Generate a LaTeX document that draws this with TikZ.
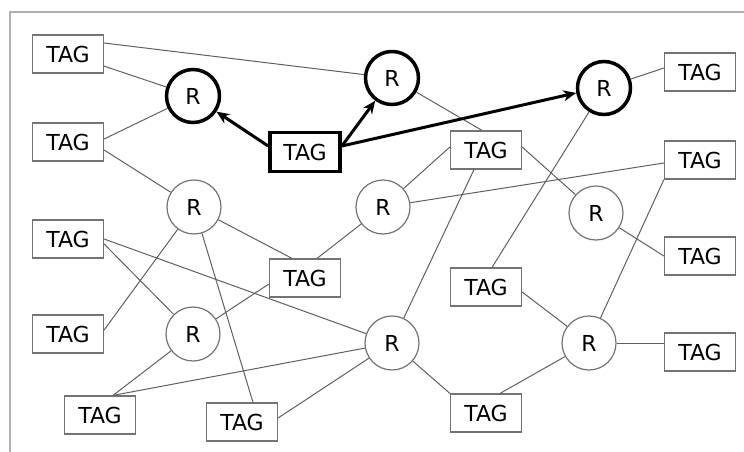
\documentclass[tikz,border=0pt]{standalone}
\usepackage{fontspec}
\setmainfont{DejaVu Sans}
\usetikzlibrary{arrows.meta}
\definecolor{linegray}{RGB}{95,95,95}
\definecolor{boxgray}{RGB}{115,115,115}
\definecolor{framegray}{RGB}{175,175,175}
\begin{document}
\begin{tikzpicture}[x=1pt,y=-1pt,
  tagbox/.style={draw=boxgray,line width=1.2pt,minimum width=71pt,minimum height=38pt,inner sep=0pt,font=\fontsize{22}{26}\selectfont},
  tagbold/.style={draw=black,line width=3.8pt,minimum width=70pt,minimum height=39pt,inner sep=0pt,font=\fontsize{22}{26}\selectfont},
  rnode/.style={circle,draw=boxgray,line width=1.2pt,minimum size=54pt,inner sep=0pt,font=\fontsize{22}{26}\selectfont},
  rbold/.style={circle,draw=black,line width=3.5pt,minimum size=53pt,inner sep=0pt,font=\fontsize{22}{26}\selectfont},
  link/.style={draw=linegray,line width=1pt},
  arrowlink/.style={draw=black,line width=3pt,-{Stealth[length=13pt,width=11pt]}}]
\useasboundingbox (0,0) rectangle (744,452);
\draw[framegray,line width=1.5pt] (10,452) -- (10,12) -- (744,12);
% tags
\node[tagbox] (t1) at (68,54) {TAG};
\node[tagbox] (t2) at (68,142) {TAG};
\node[tagbox] (t3) at (68,239) {TAG};
\node[tagbox] (t4) at (68,334) {TAG};
\node[tagbox] (tbl) at (100,415) {TAG};
\node[tagbox] (tb) at (242,422) {TAG};
\node[tagbold] (tc) at (305,152) {TAG};
\node[tagbox] (tcl) at (305,278) {TAG};
\node[tagbox] (tm) at (486,150) {TAG};
\node[tagbox] (t9) at (486,287) {TAG};
\node[tagbox] (tbm) at (486,413) {TAG};
\node[tagbox] (ttr) at (700,72) {TAG};
\node[tagbox] (tr2) at (700,160) {TAG};
\node[tagbox] (tr3) at (700,256) {TAG};
\node[tagbox] (tr4) at (700,352) {TAG};
% readers
\node[rbold] (r1) at (193,96) {R};
\node[rbold] (r2) at (392,78) {R};
\node[rbold] (r3) at (604,88) {R};
\node[rnode] (rlm) at (194,207) {R};
\node[rnode] (rm) at (383,207) {R};
\node[rnode] (rsr) at (596,213) {R};
\node[rnode] (rll) at (193,334) {R};
\node[rnode] (rcb) at (392,343) {R};
\node[rnode] (rbr) at (589,343) {R};
% thin links
\path[link] (t1) -- (r1);
\path[link] ([yshift=11pt]t1.east) -- (r2);
\path[link] ([yshift=3pt]t2.east) -- (r1);
\path[link] ([yshift=-8pt]t2.east) -- (rlm);
\path[link] (r2) -- ([xshift=-4pt]tm.north);
\path[link] (r3) -- ([yshift=4pt]ttr.west);
\path[link] (r3) -- ([xshift=6pt]t9.north);
\path[link] ([yshift=3pt]tm.west) -- (rm);
\path[link] ([yshift=3pt]tm.east) -- (rsr);
\path[link] ([xshift=-12pt]tm.south) -- (rcb);
\path[link] (rm) -- ([yshift=-3pt]tr2.west);
\path[link] (rm) -- ([xshift=12pt]tcl.north);
\path[link] (rsr) -- (tr3.west);
\path[link] (tr2.south west) -- (rbr);
\path[link] (rlm) -- ([xshift=-13pt]tcl.north);
\path[link] (rlm) -- ([yshift=4pt]t4.east);
\path[link] (rlm) -- ([xshift=11pt]tb.north);
\path[link] ([yshift=-5pt]t3.east) -- (rll);
\path[link] (t3.east) -- (rcb);
\path[link] ([yshift=-6pt]tcl.west) -- (rll);
\path[link] (rll) -- ([xshift=13pt]tbl.north);
\path[link] ([xshift=13pt]tbl.north) -- (rcb);
\path[link] ([yshift=4pt]tb.east) -- (rcb);
\path[link] (rcb) -- (tbm.north west);
\path[link] ([yshift=-5pt]t9.east) -- (rbr);
\path[link] (rbr) -- ([xshift=14pt]tbm.north);
\path[link] (rbr) -- (rbr -| tr4.west);
% arrows
\path[arrowlink] ([yshift=6pt]tc.west) -- (r1);
\path[arrowlink] ([yshift=6pt]tc.east) -- (r2);
\path[arrowlink] ([yshift=6pt]tc.east) -- (r3.190);
\end{tikzpicture}
\end{document}
